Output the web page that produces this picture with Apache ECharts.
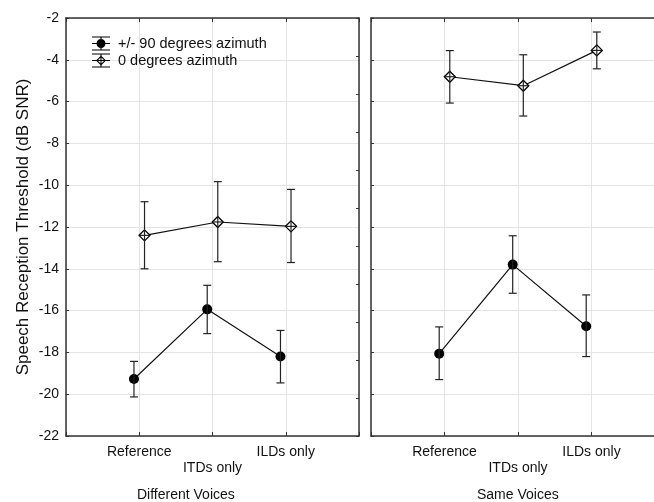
<!DOCTYPE html>
<html>
<head>
<meta charset="utf-8">
<script src="https://cdn.jsdelivr.net/npm/echarts@6/dist/echarts.min.js"></script>
<style>
  html, body { margin: 0; padding: 0; background: #fff; }
  #main { width: 654px; height: 502px; }
</style>
</head>
<body>
<div id="main"></div>
<script>
var categories = ['Reference', 'ITDs only', 'ILDs only'];
var panels = ['Different Voices', 'Same Voices'];
var seriesNames = ['+/- 90 degrees azimuth', '0 degrees azimuth'];
var yTicks = [-22, -2, 2];

// Different Voices
var diffAzMean = [-19.27, -15.94, -18.2];
var diffAzLow = [-20.13, -17.1, -19.46];
var diffAzHigh = [-18.43, -14.79, -16.95];
var diffZeroMean = [-12.4, -11.76, -11.97];
var diffZeroLow = [-14.0, -13.66, -13.7];
var diffZeroHigh = [-10.79, -9.83, -10.2];

// Same Voices
var sameAzMean = [-18.06, -13.8, -16.75];
var sameAzLow = [-19.3, -15.17, -18.2];
var sameAzHigh = [-16.78, -12.42, -15.25];
var sameZeroMean = [-4.81, -5.24, -3.55];
var sameZeroLow = [-6.07, -6.69, -4.43];
var sameZeroHigh = [-3.56, -3.76, -2.67];

var font = 'Liberation Sans, Arial, sans-serif';
var axisColor = '#333';
var gridColor = '#e4e4e4';
var shift = 0.072; // small horizontal dodge between the two series

var iconAz = 'path://M0,0H18V1.1H0Z M0,12.9H18V14H0Z M0,6.45H18V7.55H0Z M8.45,0H9.55V14H8.45Z M4.5,7A4.5,4.5,0,1,1,13.5,7A4.5,4.5,0,1,1,4.5,7Z';
var iconZero = 'path://M0,0H18V1.1H0Z M0,12.9H18V14H0Z M0,6.45H18V7.55H0Z M8.45,0H9.55V14H8.45Z M9,2L14,7L9,12L4,7Z M9,3.6L5.6,7L9,10.4L12.4,7Z';

function points(mean, dx) {
  return mean.map(function(v, i) { return [i + 1 + dx, v]; });
}
function bars(mean, low, high, dx, cross) {
  return mean.map(function(v, i) { return [i + 1 + dx, low[i], high[i], v, cross]; });
}

function renderBar(params, api) {
  var x = api.value(0);
  var lo = api.coord([x, api.value(1)]);
  var hi = api.coord([x, api.value(2)]);
  var mid = api.coord([x, api.value(3)]);
  var cap = 4;
  var st = { stroke: '#222', lineWidth: 1.2 };
  var kids = [
    { type: 'line', shape: { x1: lo[0], y1: lo[1], x2: hi[0], y2: hi[1] }, style: st },
    { type: 'line', shape: { x1: lo[0] - cap, y1: lo[1], x2: lo[0] + cap, y2: lo[1] }, style: st },
    { type: 'line', shape: { x1: hi[0] - cap, y1: hi[1], x2: hi[0] + cap, y2: hi[1] }, style: st }
  ];
  if (api.value(4)) {
    kids.push({ type: 'line', shape: { x1: mid[0] - 5, y1: mid[1], x2: mid[0] + 5, y2: mid[1] }, style: st });
  }
  return { type: 'group', children: kids };
}

function xAxisDef(grid, pos, labels) {
  return {
    type: 'value', gridIndex: grid, position: pos, min: 0, max: 4, interval: 1,
    axisLine: { show: true, onZero: false, lineStyle: { color: axisColor, width: 1.5 } },
    axisTick: { show: true, inside: true, length: 4, lineStyle: { color: axisColor } },
    splitLine: { show: pos === 'bottom', lineStyle: { color: gridColor } },
    axisLabel: {
      show: labels, margin: 8, fontFamily: font, fontSize: 14, color: '#111', lineHeight: 16,
      formatter: function(v) {
        if (v < 1 || v > 3) return '';
        return v === 2 ? '\n' + categories[v - 1] : categories[v - 1];
      }
    }
  };
}

function yAxisDef(grid, labels) {
  var ax = {
    type: 'value', gridIndex: grid, position: 'left',
    min: yTicks[0], max: yTicks[1], interval: yTicks[2],
    axisLine: { show: true, onZero: false, lineStyle: { color: axisColor, width: 1.5 } },
    axisTick: { show: true, inside: true, length: 3, lineStyle: { color: axisColor } },
    splitLine: { show: true, lineStyle: { color: gridColor } },
    axisLabel: { show: labels, margin: 7, fontFamily: font, fontSize: 14, color: '#111' }
  };
  if (labels) {
    ax.name = 'Speech Reception Threshold (dB SNR)';
    ax.nameLocation = 'middle';
    ax.nameGap = 34;
    ax.nameTextStyle = { fontFamily: font, fontSize: 17, color: '#111' };
  }
  return ax;
}

var chart = echarts.init(document.getElementById('main'));

var lineStyleBase = { color: '#111', width: 1.2 };

function panelSeries(g, azMean, azLow, azHigh, zMean, zLow, zHigh) {
  return [
    {
      name: seriesNames[0], type: 'line', xAxisIndex: g * 2, yAxisIndex: g === 0 ? 0 : 2,
      data: points(azMean, -shift), symbol: 'circle', symbolSize: 10,
      itemStyle: { color: '#000' }, lineStyle: lineStyleBase, z: 3
    },
    {
      name: seriesNames[1], type: 'line', xAxisIndex: g * 2, yAxisIndex: g === 0 ? 0 : 2,
      data: points(zMean, shift), symbol: 'diamond', symbolSize: 11,
      itemStyle: { color: '#fff', borderColor: '#000', borderWidth: 1.3 }, lineStyle: lineStyleBase, z: 3
    },
    {
      type: 'custom', xAxisIndex: g * 2, yAxisIndex: g === 0 ? 0 : 2, z: 5,
      renderItem: renderBar, encode: { x: 0, y: [1, 2] },
      data: bars(azMean, azLow, azHigh, -shift, 0).concat(bars(zMean, zLow, zHigh, shift, 1))
    }
  ];
}

chart.setOption({
  animation: false,
  backgroundColor: '#fff',
  grid: [
    { left: 66, top: 18, width: 293, height: 418, outerBoundsMode: 'none' },
    { left: 371, top: 18, width: 294, height: 418, outerBoundsMode: 'none' }
  ],
  legend: {
    orient: 'vertical', left: 87, top: 31, itemWidth: 18, itemHeight: 14, itemGap: 2,
    textStyle: { fontFamily: font, fontSize: 14.5, color: '#111', padding: [0, 0, 0, 3] },
    itemStyle: { color: '#000', borderWidth: 0 },
    data: [
      { name: seriesNames[0], icon: iconAz },
      { name: seriesNames[1], icon: iconZero }
    ]
  },
  xAxis: [
    xAxisDef(0, 'bottom', true), xAxisDef(0, 'top', false),
    xAxisDef(1, 'bottom', true), xAxisDef(1, 'top', false)
  ],
  yAxis: [
    yAxisDef(0, true),
    {
      type: 'value', gridIndex: 0, position: 'right', min: 0, max: 11, interval: 1,
      axisLine: { show: true, onZero: false, lineStyle: { color: axisColor, width: 1.5 } },
      axisTick: { show: true, inside: true, length: 3, lineStyle: { color: axisColor } },
      splitLine: { show: false }, axisLabel: { show: false }
    },
    yAxisDef(1, false)
  ],
  graphic: [
    { type: 'text', left: 137, top: 488, style: { text: panels[0], font: '14px ' + font, fill: '#111' } },
    { type: 'text', left: 477, top: 488, style: { text: panels[1], font: '14px ' + font, fill: '#111' } }
  ],
  series: panelSeries(0, diffAzMean, diffAzLow, diffAzHigh, diffZeroMean, diffZeroLow, diffZeroHigh)
    .concat(panelSeries(1, sameAzMean, sameAzLow, sameAzHigh, sameZeroMean, sameZeroLow, sameZeroHigh))
});
</script>
</body>
</html>
